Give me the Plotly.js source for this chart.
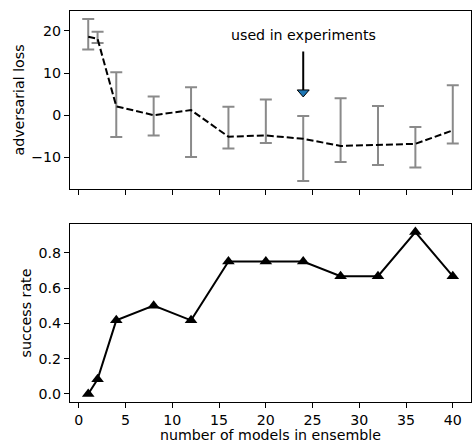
<!DOCTYPE html>
<html><head><meta charset="utf-8">
<script src="https://cdn.plot.ly/plotly-3.0.1.min.js"></script>
<style>html,body{margin:0;padding:0;background:#fff}#chart{width:472px;height:443px}</style>
</head><body><div id="chart"></div>
<script>
// ---- data ----
const nModels = [1, 2, 4, 8, 12, 16, 20, 24, 28, 32, 36, 40];
const lossMean = [18.6, 18.1, 2.1, 0.0, 1.2, -5.1, -4.8, -5.6, -7.3, -7.0, -6.8, -3.6];
const lossHigh = [22.8, 19.8, 10.2, 4.4, 6.6, 2.0, 3.7, -0.2, 4.0, 2.2, -2.8, 7.1];
const lossLow = [15.6, 17.1, -5.2, -4.8, -9.9, -7.9, -6.6, -15.6, -11.1, -11.8, -12.4, -6.7];
const successRate = [0, 0.0833, 0.4167, 0.5, 0.4167, 0.75, 0.75, 0.75, 0.6667, 0.6667, 0.9167, 0.6667];
const markedModels = [24];
const markedLoss = [5.15];
const arrowTail = 15.1;
const arrowHead = 5.9;
const noteY = 19.1;
const noteText = "used in experiments";
const xTicks = [0, 5, 10, 15, 20, 25, 30, 35, 40];

const errPlus = lossHigh.map((h, i) => h - lossMean[i]);
const errMinus = lossMean.map((m, i) => m - lossLow[i]);

const font = {family: "DejaVu Sans, sans-serif", size: 14.2, color: "#000"};

const traces = [
  {x: nModels, y: lossMean, type: "scatter", mode: "markers", xaxis: "x", yaxis: "y",
   marker: {size: 1, opacity: 0},
   error_y: {type: "data", symmetric: false, array: errPlus, arrayminus: errMinus,
             color: "#8a8a8a", thickness: 2, width: 6},
   hoverinfo: "skip", showlegend: false},
  {x: nModels, y: lossMean, type: "scatter", mode: "lines", xaxis: "x", yaxis: "y",
   line: {color: "#000", width: 2, dash: "7px,3px"}, showlegend: false},
  {x: nModels, y: successRate, type: "scatter", mode: "lines+markers", xaxis: "x2", yaxis: "y2",
   line: {color: "#000", width: 2},
   marker: {symbol: "triangle-up", size: 11, color: "#000"}, showlegend: false}
];

const axCommon = {
  showline: true, mirror: true, linecolor: "#000", linewidth: 1,
  ticks: "outside", ticklen: 5, tickwidth: 1, tickcolor: "#000",
  showgrid: false, zeroline: false, tickfont: font, automargin: false
};

const layout = {
  width: 472, height: 443,
  margin: {l: 70, r: 1, t: 11, b: 41},
  paper_bgcolor: "#fff", plot_bgcolor: "#fff",
  font: font,
  showlegend: false,
  xaxis: Object.assign({}, axCommon, {domain: [0, 1], anchor: "y", range: [-0.95, 41.95],
    tickvals: xTicks, showticklabels: false}),
  yaxis: Object.assign({}, axCommon, {domain: [0.5448, 1], anchor: "x", range: [-17.5, 24.7],
    tickvals: [-10, 0, 10, 20], title: {text: "adversarial loss", font: font, standoff: 3}}),
  xaxis2: Object.assign({}, axCommon, {domain: [0, 1], anchor: "y2", range: [-0.95, 41.95],
    tickvals: xTicks, title: {text: "number of models in ensemble", font: font, standoff: 2}}),
  yaxis2: Object.assign({}, axCommon, {domain: [0, 0.4552], anchor: "x2", range: [-0.0458, 0.9625],
    tickvals: [0, 0.2, 0.4, 0.6, 0.8], tickformat: ".1f",
    title: {text: "success rate", font: font, standoff: 3}}),
  shapes: [
    {type: "line", xref: "x", yref: "y", x0: markedModels[0], x1: markedModels[0],
     y0: arrowTail, y1: arrowHead, line: {color: "#000", width: 2}},
    {type: "path", xref: "x", yref: "y", xsizemode: "pixel", ysizemode: "pixel",
     xanchor: markedModels[0], yanchor: markedLoss[0],
     path: "M -6 3.5 L 6 3.5 L 0 -3.5 Z",
     fillcolor: "#1f77b4", line: {color: "#000", width: 1}}
  ],
  annotations: [
    {xref: "x", yref: "y", x: markedModels[0], y: noteY, text: noteText, showarrow: false,
     font: font, xanchor: "center", yanchor: "middle"}
  ]
};

Plotly.newPlot("chart", traces, layout, {staticPlot: true, displayModeBar: false});
</script>
</body></html>
